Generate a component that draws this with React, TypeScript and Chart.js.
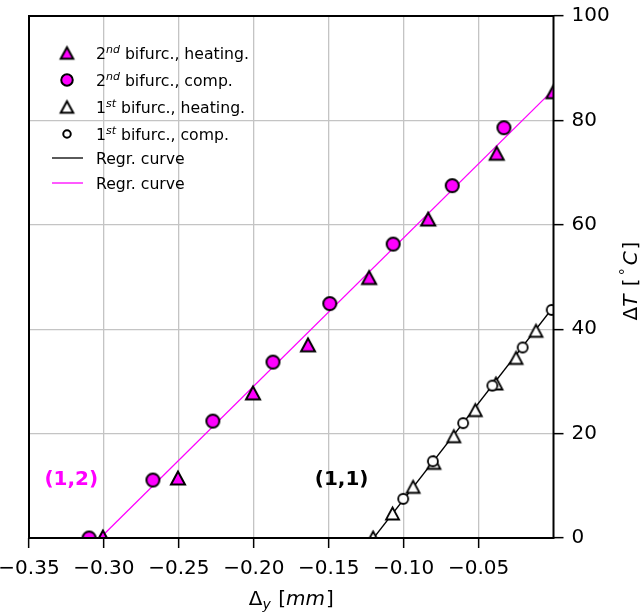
import React, { useEffect, useRef } from "react";
import { Chart, registerables } from "chart.js";

Chart.register(...registerables);

const FONT = "'DejaVu Sans', sans-serif";
const MAGENTA = "#ff00ff";

// axis ticks
const xTickValues = [-0.35, -0.3, -0.25, -0.2, -0.15, -0.1, -0.05];
const yTickValues = [0, 20, 40, 60, 80, 100];

// 2nd bifurcation, heating (magenta triangles)
const mag2HeatX = [-0.3007, -0.2506, -0.2005, -0.1638, -0.123, -0.0836, -0.0379, 0.0];
const mag2HeatY = [0.2, 11.5, 27.8, 37.0, 49.9, 61.1, 73.7, 85.5];

// 2nd bifurcation, comp. (magenta circles)
const mag2CompX = [-0.3099, -0.2673, -0.2273, -0.1872, -0.1493, -0.107, -0.0676, -0.0331];
const mag2CompY = [0.0, 11.1, 22.4, 33.7, 44.9, 56.3, 67.5, 78.6];

// 1st bifurcation, heating (white triangles)
const b1HeatX = [-0.1204, -0.1074, -0.0937, -0.0798, -0.0665, -0.0522, -0.0384, -0.025, -0.0117];
const b1HeatY = [0.1, 4.7, 9.8, 14.4, 19.5, 24.5, 29.6, 34.5, 39.7];

// 1st bifurcation, comp. (white circles)
const b1CompX = [-0.1003, -0.0805, -0.0603, -0.0408, -0.0206, -0.0012];
const b1CompY = [7.5, 14.7, 22.0, 29.2, 36.5, 43.7];

// regression curves (end points)
const regrBlackX = [-0.12, 0.0];
const regrBlackY = [0.0, 44.3];
const regrMagX = [-0.3025, 0.0];
const regrMagY = [0.0, 85.9];

// annotations
const annoTexts = ["(1,2)", "(1,1)"];
const annoX = [-0.3397, -0.1593];
const annoY = [11.1, 11.1];
const annoColors = [MAGENTA, "#000000"];

type Part = { t: string; it?: boolean; sup?: boolean; sub?: boolean; gap?: number };

const legendLabels: Part[][] = [
  [{ t: "2" }, { t: "nd", it: true, sup: true }, { t: " bifurc., heating." }],
  [{ t: "2" }, { t: "nd", it: true, sup: true }, { t: " bifurc., comp." }],
  [{ t: "1" }, { t: "st", it: true, sup: true }, { t: " bifurc., heating." }],
  [{ t: "1" }, { t: "st", it: true, sup: true }, { t: " bifurc., comp." }],
  [{ t: "Regr. curve" }],
  [{ t: "Regr. curve" }],
];

const xTitle: Part[] = [{ t: "Δ" }, { t: "y", it: true, sub: true, gap: 1 }, { t: " [" }, { t: "mm", it: true, gap: 1 }, { t: "]" }];
const yTitle: Part[] = [
  { t: "Δ" },
  { t: "T", it: true, gap: 2 },
  { t: " [", gap: 3 },
  { t: "°", sup: true, gap: 3 },
  { t: "C", it: true, gap: 2 },
  { t: "]" },
];

function pts(xs: number[], ys: number[]) {
  return xs.map((x, i) => ({ x, y: ys[i] }));
}

function makeMarker(shape: "tri" | "circ", w: number, h: number, fill: string, lw: number): HTMLCanvasElement {
  const n = Math.ceil(Math.max(w, h) + lw * 2 + 4);
  const c = document.createElement("canvas");
  c.width = n;
  c.height = n;
  const g = c.getContext("2d")!;
  const cx = n / 2;
  const cy = n / 2;
  g.beginPath();
  if (shape === "tri") {
    g.moveTo(cx, cy - h / 2);
    g.lineTo(cx - w / 2, cy + h / 2);
    g.lineTo(cx + w / 2, cy + h / 2);
    g.closePath();
  } else {
    g.arc(cx, cy, w / 2, 0, Math.PI * 2);
  }
  g.fillStyle = fill;
  g.fill();
  g.lineWidth = lw;
  g.lineJoin = "miter";
  g.strokeStyle = "#000";
  g.stroke();
  return c;
}

function drawRich(ctx: CanvasRenderingContext2D, parts: Part[], x: number, y: number, size: number, align: "left" | "center") {
  const fontFor = (p: Part) => `${p.it ? "italic " : ""}${p.sup || p.sub ? size * 0.7 : size}px ${FONT}`;
  const widths: number[] = [];
  let total = 0;
  for (const p of parts) {
    ctx.font = fontFor(p);
    const w = ctx.measureText(p.t).width + (p.gap || 0);
    widths.push(w);
    total += w;
  }
  let cx = align === "center" ? x - total / 2 : x;
  ctx.textAlign = "left";
  ctx.textBaseline = "alphabetic";
  parts.forEach((p, i) => {
    ctx.font = fontFor(p);
    const dy = p.sup ? -size * 0.38 : p.sub ? size * 0.22 : 0;
    ctx.fillText(p.t, cx, y + dy);
    cx += widths[i];
  });
}

export default function App() {
  const ref = useRef<HTMLCanvasElement>(null);

  useEffect(() => {
    const canvas = ref.current!;
    const triMag = makeMarker("tri", 14, 13, MAGENTA, 2);
    const circMag = makeMarker("circ", 13, 13, MAGENTA, 2);
    const triWhite = makeMarker("tri", 13, 12, "#ffffff", 1.8);
    const circWhite = makeMarker("circ", 10, 10, "#ffffff", 1.8);
    const legTriMag = makeMarker("tri", 12.5, 11.5, MAGENTA, 2);
    const legCircMag = makeMarker("circ", 11.5, 11.5, MAGENTA, 2);
    const legTriWhite = makeMarker("tri", 12.5, 11.5, "#ffffff", 2);
    const legCircWhite = makeMarker("circ", 7.5, 7.5, "#ffffff", 2);

    const overlay = {
      id: "overlay",
      afterDatasetsDraw(chart: any) {
        const { ctx, chartArea: a } = chart;
        ctx.save();
        ctx.strokeStyle = "#000";
        ctx.lineWidth = 2;
        ctx.strokeRect(a.left, a.top, a.right - a.left, a.bottom - a.top);
        ctx.restore();
      },
      afterDraw(chart: any) {
        const { ctx, chartArea: a } = chart;
        const xs = chart.scales.x;
        const ys = chart.scales.y;
        ctx.save();
        // annotations
        annoTexts.forEach((t, i) => {
          ctx.fillStyle = annoColors[i];
          ctx.font = `bold 20px ${FONT}`;
          ctx.textAlign = "left";
          ctx.textBaseline = "middle";
          ctx.fillText(t, xs.getPixelForValue(annoX[i]), ys.getPixelForValue(annoY[i]));
        });
        // legend
        const rowY = [53, 80, 107, 134, 158, 183];
        const markers = [legTriMag, legCircMag, legTriWhite, legCircWhite];
        const mx = 67;
        const tx = 96;
        legendLabels.forEach((parts, i) => {
          const ry = rowY[i];
          if (i < 4) {
            const m = markers[i];
            ctx.drawImage(m, mx - m.width / 2, ry - m.height / 2);
          } else {
            ctx.beginPath();
            ctx.strokeStyle = i === 4 ? "#000" : MAGENTA;
            ctx.lineWidth = 1.3;
            ctx.moveTo(52, ry);
            ctx.lineTo(83, ry);
            ctx.stroke();
          }
          ctx.fillStyle = "#000";
          drawRich(ctx, parts, tx, ry + 5.5, 15.7, "left");
        });
        // x title
        ctx.fillStyle = "#000";
        drawRich(ctx, xTitle, (a.left + a.right) / 2, 605, 20, "center");
        // y title (rotated)
        ctx.save();
        ctx.translate(637.3, 281);
        ctx.rotate(-Math.PI / 2);
        drawRich(ctx, yTitle, 0, 0, 20, "center");
        ctx.restore();
        ctx.restore();
      },
    };

    const fmt = (v: number) => (v < 0 ? "\u2212" : "") + Math.abs(v).toFixed(2);

    const chart = new Chart(canvas, {
      type: "scatter",
      data: {
        datasets: [
          {
            label: "1st bifurc., comp.",
            data: pts(b1CompX, b1CompY),
            pointStyle: circWhite as any,
            pointRadius: 6,
            clip: 0,
            order: 1,
          },
          {
            label: "1st bifurc., heating.",
            data: pts(b1HeatX, b1HeatY),
            pointStyle: triWhite as any,
            pointRadius: 7,
            clip: 0,
            order: 2,
          },
          {
            label: "2nd bifurc., comp.",
            data: pts(mag2CompX, mag2CompY),
            pointStyle: circMag as any,
            pointRadius: 7,
            clip: 0,
            order: 3,
          },
          {
            label: "2nd bifurc., heating.",
            data: pts(mag2HeatX, mag2HeatY),
            pointStyle: triMag as any,
            pointRadius: 7,
            clip: 0,
            order: 4,
          },
          {
            label: "Regr. curve",
            data: pts(regrBlackX, regrBlackY),
            showLine: true,
            pointRadius: 0,
            borderColor: "#000000",
            borderWidth: 1.3,
            clip: 0,
            order: 5,
          },
          {
            label: "Regr. curve",
            data: pts(regrMagX, regrMagY),
            showLine: true,
            pointRadius: 0,
            borderColor: MAGENTA,
            borderWidth: 1.3,
            clip: 0,
            order: 6,
          },
        ] as any,
      },
      options: {
        responsive: false,
        animation: false,
        devicePixelRatio: 1,
        events: [],
        layout: { padding: { left: 29, top: 16, right: 0, bottom: 0 } },
        plugins: { legend: { display: false }, tooltip: { enabled: false } },
        scales: {
          x: {
            type: "linear",
            position: "bottom",
            min: -0.35,
            max: 0,
            afterBuildTicks: (s: any) => {
              s.ticks = xTickValues.map((v) => ({ value: v }));
            },
            afterFit: (s: any) => {
              s.height = 75;
              s.paddingLeft = 0;
              s.paddingRight = 0;
            },
            ticks: {
              autoSkip: false,
              maxRotation: 0,
              minRotation: 0,
              color: "#000",
              padding: 9,
              font: { family: FONT, size: 20 },
              callback: (v: any) => fmt(Number(v)),
            },
            grid: { color: "#c4c4c4", lineWidth: 1.3, tickColor: "#000", tickWidth: 1.5, tickLength: 10 },
            border: { display: false },
          },
          y: {
            type: "linear",
            position: "right",
            min: 0,
            max: 100,
            afterBuildTicks: (s: any) => {
              s.ticks = yTickValues.map((v) => ({ value: v }));
            },
            afterFit: (s: any) => {
              s.width = 88.5;
              s.paddingTop = 0;
              s.paddingBottom = 0;
            },
            ticks: {
              color: "#000",
              padding: 8,
              font: { family: FONT, size: 20 },
              callback: (v: any) => String(v),
            },
            grid: { color: "#c4c4c4", lineWidth: 1.3, tickColor: "#000", tickWidth: 1.5, tickLength: 10 },
            border: { display: false },
          },
        },
      } as any,
      plugins: [overlay],
    });
    return () => chart.destroy();
  }, []);

  return (
    <div style={{ position: "absolute", left: 0, top: 0, width: 642, height: 613, background: "#fff" }}>
      <canvas ref={ref} width={642} height={613} style={{ display: "block", width: 642, height: 613 }} />
    </div>
  );
}
